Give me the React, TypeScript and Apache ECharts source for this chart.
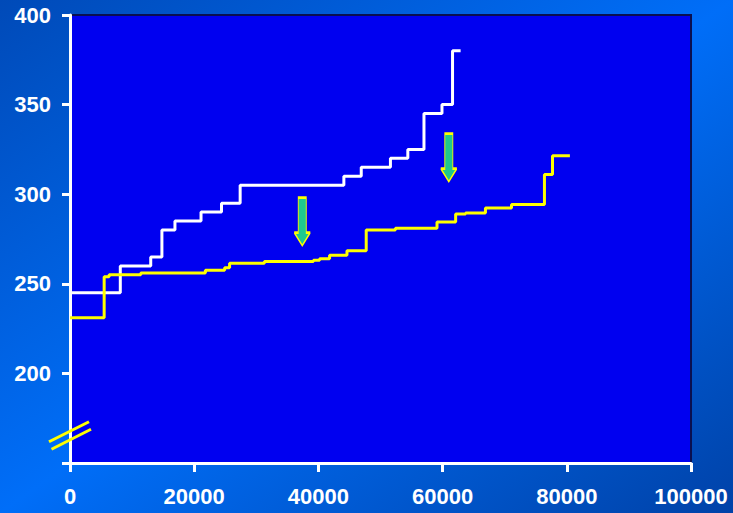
import React, { useEffect, useRef } from "react";
import * as echarts from "echarts";

// Step curves: each pair is [x where the level starts, level]
const whiteSteps: [number, number][] = [
  [0, 245], [8100, 260], [13000, 265], [14800, 280], [16900, 285],
  [21100, 290], [24400, 295], [27400, 305], [44100, 310], [46900, 315],
  [51600, 320], [54400, 325], [57000, 345], [59900, 350], [61600, 380],
  [62900, 380],
];

const yellowSteps: [number, number][] = [
  [0, 231], [5500, 254], [6300, 255], [11400, 256], [21800, 257.5],
  [24900, 259], [25700, 261.5], [31300, 262.5], [39200, 263.2], [40200, 264],
  [41800, 266], [44600, 268.5], [47700, 280], [52400, 281], [59100, 284.5],
  [62100, 289], [63700, 289.5], [66900, 292.3], [71100, 294.2], [76400, 311],
  [77700, 321.5], [80500, 321.5],
];

// Down arrows (centre positions in data units)
const arrowX = [37400, 61000];
const arrowY = [284.7, 320.4];

const xMin = 0;
const xMax = 100000;
const xStep = 20000;
const yMin = 150;
const yMax = 400;
const yStep = 50;

const FONT = "'Liberation Sans', Arial, sans-serif";

export default function App() {
  const ref = useRef<HTMLDivElement>(null);

  useEffect(() => {
    const chart = echarts.init(ref.current!, null, { renderer: "svg" });
    chart.setOption({
      animation: false,
      backgroundColor: "transparent",
      grid: {
        left: 70,
        right: 42,
        top: 15,
        bottom: 50,
        show: true,
        backgroundColor: "#0000f0",
        borderColor: "#0a1050",
        borderWidth: 2,
      },
      xAxis: {
        type: "value",
        min: xMin,
        max: xMax,
        interval: xStep,
        axisLine: { show: true, lineStyle: { color: "#ffffff", width: 3 } },
        axisTick: { show: true, length: 9, lineStyle: { color: "#ffffff", width: 3 } },
        splitLine: { show: false },
        axisLabel: {
          color: "#ffffff",
          fontFamily: FONT,
          fontWeight: "bold",
          fontSize: 22,
          margin: 22,
          formatter: (v: number) => String(v),
        },
      },
      yAxis: {
        type: "value",
        min: yMin,
        max: yMax,
        interval: yStep,
        axisLine: { show: true, lineStyle: { color: "#ffffff", width: 3 } },
        axisTick: { show: true, length: 8, lineStyle: { color: "#ffffff", width: 3 } },
        splitLine: { show: false },
        axisLabel: {
          color: "#ffffff",
          fontFamily: FONT,
          fontWeight: "bold",
          fontSize: 22,
          margin: 19,
          formatter: (v: number) => (v === yMin ? "" : String(v)),
        },
      },
      series: [
        {
          type: "line",
          step: "end",
          data: whiteSteps,
          symbol: "none",
          lineStyle: { color: "#ffffff", width: 3 },
          z: 2,
        },
        {
          type: "line",
          step: "end",
          data: yellowSteps,
          symbol: "none",
          lineStyle: { color: "#ffff00", width: 3 },
          z: 3,
          markPoint: {
            symbol: "path://M4,0 L12,0 L12,35 L16,35 L8,48 L0,35 L4,35 Z",
            symbolSize: [16, 48],
            symbolKeepAspect: false,
            itemStyle: { color: "#1ec98e", borderColor: "#ffff00", borderWidth: 1.5 },
            label: { show: false },
            data: arrowX.map((x, i) => ({ coord: [x, arrowY[i]] })),
          },
        },
      ],
    });

    // Axis-break marks on the value axis
    const [bx, by] = chart.convertToPixel({ gridIndex: 0 }, [0, 165.5]) as number[];
    const breakStyle = { stroke: "#ffff00", lineWidth: 3 };
    chart.setOption({
      graphic: [
        {
          type: "line",
          z: 10,
          shape: { x1: bx - 21, y1: by + 6.5, x2: bx + 19, y2: by - 13.5 },
          style: breakStyle,
        },
        {
          type: "line",
          z: 10,
          shape: { x1: bx - 18.5, y1: by + 14, x2: bx + 21, y2: by - 6 },
          style: breakStyle,
        },
      ],
    });

    return () => chart.dispose();
  }, []);

  return (
    <div
      ref={ref}
      style={{
        position: "absolute",
        left: 0,
        top: 0,
        width: 733,
        height: 513,
        background:
          "linear-gradient(to bottom right, #004ab8 0%, #006ef8 50%, #0042a8 100%)",
      }}
    />
  );
}
